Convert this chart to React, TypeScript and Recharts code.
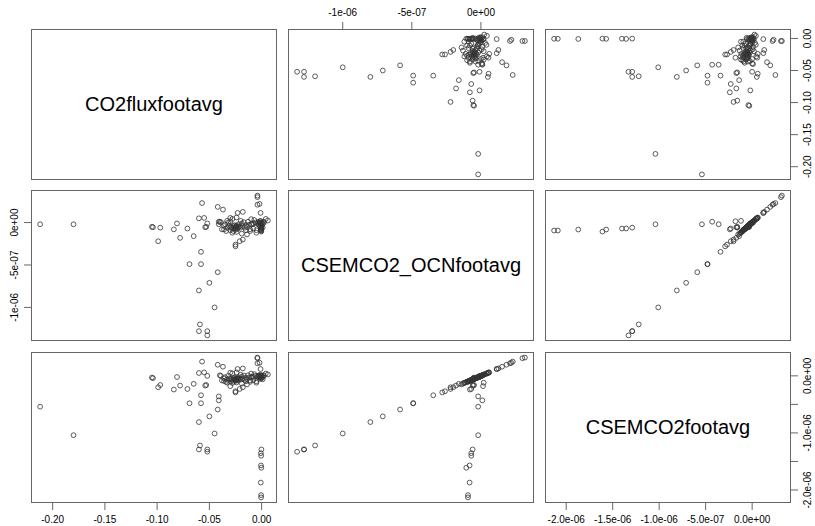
import { ScatterChart, Scatter, XAxis, YAxis } from "recharts";

// pairs() of three footprint variables; ocean / total values are in units of 1e-6
const fluxFoot = [
  -0.212, -0.18, -0.105, -0.104, -0.097, -0.099, -0.084, -0.081, -0.078, -0.071,
  -0.065, -0.069, -0.058, -0.058, -0.06, -0.057, -0.055, -0.054, -0.053, -0.052,
  -0.06, -0.05, -0.042, -0.045, -0.059, -0.06, -0.052, -0.052, -0.042, -0.037,
  -0.041, -0.04, -0.039, -0.041, -0.038, -0.036, -0.028, -0.023, -0.018, -0.025,
  -0.025, -0.021, -0.018, -0.014, -0.004, -0.004, -0.004, -0.002, -0.001, 0.004,
  0.006, -0.005, -0.011,
  -0.0005, -0.0005, -0.0008, -0.0003, -0.0006, -0.0004, -0.0007, -0.0002,
  -0.03, -0.033,
  -0.001, -0.002, 0.0, -0.001, 0.001, -0.003, -0.002, 0.0, -0.001, 0.001,
  -0.004, 0.002, -0.002, 0.0, -0.001, -0.003, 0.002, -0.006, -0.008, -0.01,
  -0.025, -0.024, -0.026, -0.023, -0.027, -0.022, -0.028, -0.025, -0.024, -0.021,
  -0.029, -0.026, -0.023, -0.02, -0.03, -0.031, -0.025, -0.027, -0.024, -0.022,
  -0.018, -0.015, -0.012, -0.009, -0.016, -0.014, -0.019, -0.017, -0.013, -0.035,
  -0.033, -0.032, -0.036, -0.02, -0.011, -0.008, -0.015, -0.03, -0.034, -0.028,
  -0.019, -0.01, -0.007, -0.005, -0.024, -0.03,
];

const ocnFootE6 = [
  -0.02, -0.02, -0.05, -0.055, -0.06, -0.22, -0.08, -0.01, -0.18, -0.07,
  -0.16, -0.49, -0.49, -0.345, 0.05, 0.23, 0.055, -0.055, -0.05, -0.01,
  -0.8, -0.71, -0.585, -1.0, -1.2, -1.28, -1.28, -1.33, 0.185, 0.153,
  0.01, 0.01, 0.005, -0.02, -0.08, -0.08, 0.043, 0.114, 0.126, -0.28,
  -0.26, -0.22, -0.2, -0.14, 0.318, 0.3, 0.21, 0.22, 0.114, 0.043,
  0.024, -0.12, -0.08,
  -0.094, -0.094, -0.082, -0.106, -0.082, -0.07, -0.07, -0.06,
  0.015, 0.02,
  -0.005, 0.0, -0.01, -0.02, -0.015, 0.005, -0.03, -0.04, -0.05, -0.06,
  -0.01, 0.01, 0.015, 0.0, 0.02, -0.025, -0.005, 0.0, -0.01, -0.02,
  -0.05, -0.045, -0.055, -0.06, -0.04, -0.05, -0.065, -0.07, -0.035, -0.045,
  -0.05, -0.03, -0.075, -0.06, -0.06, -0.04, -0.085, -0.1, -0.11, -0.02,
  -0.04, -0.03, -0.025, -0.02, -0.06, -0.05, -0.01, 0.005, 0.01, -0.02,
  -0.06, 0.0, -0.04, 0.02, -0.1, -0.07, -0.09, -0.09, -0.1, -0.12,
  -0.13, 0.04, 0.03, -0.09, 0.06, 0.055,
];

const totFootE6 = [
  -0.54, -1.04, -0.03, -0.04, -0.16, -0.2, -0.24, -0.02, -0.17, -0.23,
  -0.14, -0.48, -0.48, -0.34, 0.05, 0.25, 0.06, -0.17, -0.16, 0.0,
  -0.81, -0.71, -0.59, -1.01, -1.22, -1.29, -1.29, -1.33, 0.195, 0.16,
  -0.43, 0.01, 0.0, -0.36, -0.08, -0.09, 0.045, 0.12, 0.13, -0.29,
  -0.27, -0.23, -0.2, -0.15, 0.32, 0.31, 0.22, 0.23, 0.12, 0.04,
  0.025, -0.12, -0.08,
  -2.13, -2.09, -1.87, -1.61, -1.57, -1.4, -1.355, -1.29,
  -0.18, -0.12,
  -0.01, 0.0, -0.015, -0.02, -0.02, 0.005, -0.035, -0.04, -0.055, -0.06,
  -0.01, 0.01, 0.01, 0.0, 0.02, -0.03, -0.005, 0.0, -0.015, -0.02,
  -0.055, -0.045, -0.06, -0.065, -0.04, -0.05, -0.07, -0.075, -0.04, -0.05,
  -0.05, -0.035, -0.08, -0.065, -0.06, -0.045, -0.09, -0.1, -0.115, -0.025,
  -0.045, -0.03, -0.03, -0.02, -0.065, -0.055, -0.015, 0.005, 0.01, -0.025,
  -0.065, 0.0, -0.045, 0.02, -0.105, -0.075, -0.095, -0.095, -0.105, -0.125,
  -0.135, 0.04, 0.03, -0.095, 0.06, 0.055,
];

const varNames = ["CO2fluxfootavg", "CSEMCO2_OCNfootavg", "CSEMCO2footavg"];

const fluxTicks = [-0.2, -0.15, -0.1, -0.05, 0];
const fluxTickLabels = ["-0.20", "-0.15", "-0.10", "-0.05", "0.00"];
const ocnTicks = [-1e-6, -5e-7, 0];
const ocnTickLabels = ["-1e-06", "-5e-07", "0e+00"];
const totTicks = [-2e-6, -1.5e-6, -1e-6, -5e-7, 0];
const totTickLabelsX = ["-2.0e-06", "-1.5e-06", "-1.0e-06", "-5.0e-07", "0.0e+00"];
const totTickLabelsY = ["-2.0e-06", "", "-1.0e-06", "", "0.0e+00"];

const ocnFoot = ocnFootE6.map((v) => v * 1e-6);
const totFoot = totFootE6.map((v) => v * 1e-6);

const rows = fluxFoot.map((f, i) => ({ flux: f, ocn: ocnFoot[i], tot: totFoot[i] }));

// same as R: data range widened by 4% on each side
function rRange(vals: number[]): [number, number] {
  const lo = Math.min(...vals);
  const hi = Math.max(...vals);
  const pad = (hi - lo) * 0.04;
  return [lo - pad, hi + pad];
}

const vars = [
  { key: "flux", domain: rRange(fluxFoot), ticks: fluxTicks, labelsX: fluxTickLabels, labelsY: fluxTickLabels },
  { key: "ocn", domain: rRange(ocnFoot), ticks: ocnTicks, labelsX: ocnTickLabels, labelsY: ocnTickLabels },
  { key: "tot", domain: rRange(totFoot), ticks: totTicks, labelsX: totTickLabelsX, labelsY: totTickLabelsY },
];

const FONT = '"Liberation Sans", Arial, Helvetica, sans-serif';
const COL_X = [31, 288, 545];
const ROW_Y = [29, 190, 352];
const W = 246;
const H = 151;
const PAD = 32;
const LINE = "#666";

function makeTick(side: string, ticks: number[], labels: string[]) {
  return (props: any) => {
    const { x, y, payload } = props;
    const label = labels[ticks.indexOf(payload.value)] ?? "";
    if (!label) return <g />;
    let tx = x;
    let ty = y;
    let rot = false;
    if (side === "top") ty = y - 9.5;
    if (side === "bottom") ty = y + 9.5;
    if (side === "left") {
      tx = x - 9;
      rot = true;
    }
    if (side === "right") {
      tx = x + 10;
      rot = true;
    }
    return (
      <text
        x={tx}
        y={ty}
        dy="0.35em"
        textAnchor="middle"
        fontSize={10}
        fontFamily={FONT}
        fill="#000"
        transform={rot ? `rotate(-90 ${tx} ${ty})` : undefined}
      >
        {label}
      </text>
    );
  };
}

const Ring = (props: any) => {
  if (props.cx == null || props.cy == null) return <g />;
  return <circle cx={props.cx} cy={props.cy} r={2.4} fill="none" stroke="#333" strokeWidth={0.8} />;
};

function Panel({ i, j }: { i: number; j: number }) {
  const xv = vars[j];
  const yv = vars[i];
  const top = i === 0 && j % 2 === 1;
  const bottom = i === 2 && j % 2 === 0;
  const left = j === 0 && i % 2 === 1;
  const right = j === 2 && i % 2 === 0;
  const diag = i === j;
  if (diag && !top && !bottom && !left && !right) return null;

  return (
    <div style={{ position: "absolute", left: COL_X[j] - PAD, top: ROW_Y[i] - PAD }}>
      <ScatterChart
        width={W + 2 * PAD}
        height={H + 2 * PAD}
        margin={{
          top: top ? 0 : PAD,
          bottom: bottom ? 0 : PAD,
          left: left ? 0 : PAD,
          right: right ? 0 : PAD,
        }}
      >
        <XAxis
          type="number"
          dataKey={xv.key}
          domain={xv.domain}
          allowDataOverflow
          hide={!top && !bottom}
          orientation={top ? "top" : "bottom"}
          height={PAD}
          ticks={xv.ticks}
          interval={0}
          axisLine={false}
          tickLine={{ stroke: LINE }}
          tickSize={7}
          tickMargin={0}
          tick={makeTick(top ? "top" : "bottom", xv.ticks, xv.labelsX)}
        />
        <YAxis
          type="number"
          dataKey={yv.key}
          domain={yv.domain}
          allowDataOverflow
          hide={!left && !right}
          orientation={right ? "right" : "left"}
          width={PAD}
          ticks={yv.ticks}
          interval={0}
          axisLine={false}
          tickLine={{ stroke: LINE }}
          tickSize={7}
          tickMargin={0}
          tick={makeTick(right ? "right" : "left", yv.ticks, yv.labelsY)}
        />
        <Scatter data={diag ? [] : rows} shape={Ring} isAnimationActive={false} />
      </ScatterChart>
    </div>
  );
}

export default function App() {
  const cells = [];
  for (let i = 0; i < 3; i++) {
    for (let j = 0; j < 3; j++) {
      cells.push(<Panel key={`p${i}${j}`} i={i} j={j} />);
    }
  }
  return (
    <div style={{ position: "absolute", left: 0, top: 0, width: 815, height: 526, background: "#fff", fontFamily: FONT }}>
      {cells}
      {[0, 1, 2].map((i) =>
        [0, 1, 2].map((j) => (
          <div
            key={`b${i}${j}`}
            style={{
              position: "absolute",
              left: COL_X[j],
              top: ROW_Y[i],
              width: W,
              height: H,
              border: `1px solid ${LINE}`,
              boxSizing: "border-box",
              display: "flex",
              alignItems: "center",
              justifyContent: "center",
              fontSize: 20,
              color: "#000",
            }}
          >
            {i === j ? varNames[i] : null}
          </div>
        ))
      )}
    </div>
  );
}
